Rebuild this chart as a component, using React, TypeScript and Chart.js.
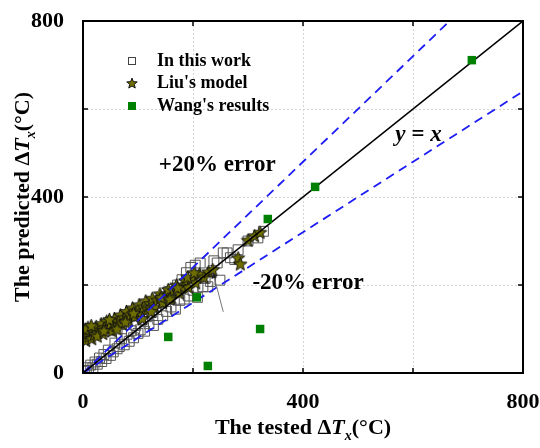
import React, { useEffect, useRef } from 'react';
import { Chart, registerables } from 'chart.js';

Chart.register(...registerables);

// ---- axis settings ----
const AXIS_MIN = 0;
const AXIS_MAX = 800;
const TICK_STEP = 200;
const LABELED_TICKS = [0, 400, 800];

// ---- "In this work" (open squares) ----
const workX = [3, 6, 10, 14, 18, 22, 26, 30, 34, 38, 42, 46, 50, 55, 58, 62, 66, 70, 75, 80, 84, 88, 92, 96, 100, 104, 108, 112, 116, 120, 125, 128, 132, 136, 140, 145, 148, 152, 156, 160, 164, 168, 172, 176, 180, 184, 188, 192, 196, 200, 204, 208, 213, 218, 222, 227, 232, 238, 244, 249, 255, 262, 268, 276, 282, 300, 318, 328];
const workY = [4, 12, 6, 18, 12, 25, 20, 34, 26, 42, 33, 52, 40, 48, 68, 55, 60, 78, 64, 88, 72, 96, 80, 108, 90, 98, 122, 95, 128, 112, 138, 108, 150, 122, 160, 130, 172, 140, 185, 150, 190, 145, 200, 165, 212, 168, 228, 175, 240, 188, 245, 172, 250, 196, 215, 196, 208, 255, 250, 211, 273, 273, 262, 258, 280, 300, 307, 322];

// ---- "Liu's model" (stars) ----
const liuX = [1, 3, 5, 7, 9, 11, 13, 16, 18, 21, 24, 27, 30, 33, 36, 40, 43, 46, 50, 53, 57, 60, 64, 68, 71, 75, 79, 83, 86, 90, 94, 98, 102, 106, 110, 114, 118, 122, 126, 130, 135, 140, 145, 150, 155, 160, 165, 170, 175, 180, 186, 192, 198, 205, 212, 220, 228, 236, 282, 286, 300, 312, 322, 4, 15, 26, 38, 48, 62, 77, 92, 108, 124, 142, 158, 172, 190, 202];
const liuY = [82, 96, 74, 90, 104, 84, 95, 78, 100, 88, 106, 92, 98, 112, 90, 104, 118, 100, 112, 96, 124, 108, 118, 132, 112, 126, 140, 120, 132, 148, 128, 142, 155, 136, 150, 164, 145, 158, 170, 150, 166, 180, 160, 176, 190, 172, 188, 200, 182, 196, 210, 195, 215, 205, 225, 218, 230, 235, 262, 248, 302, 312, 320, 100, 108, 84, 96, 122, 100, 116, 136, 124, 140, 172, 168, 194, 218, 228];

// ---- "Wang's results" (green squares) ----
const wangX = [155, 207, 227, 322, 336, 422, 707];
const wangY = [82, 172, 16, 100, 350, 423, 711];

// ---- reference lines: y = k x ----
const REF_RATIOS = [1, 1.2, 0.8];

// ---- labels ----
const LEGEND_LABELS = ['In this work', "Liu's model", "Wang's results"];
const PLUS_TEXT = '+20% error';
const MINUS_TEXT = '-20% error';
const LINE_TEXT = 'y = x';
const X_TITLE = ['The tested Δ', 'T', 'x', '(°C)'];
const Y_TITLE = ['The predicted Δ', 'T', 'x', '(°C)'];

const FAM = '"Liberation Serif", "Times New Roman", serif';
const OLIVE = '#6e6e00';
const GREEN = '#008000';
const BLUE = '#1c1cf5';

function pts(xs: number[], ys: number[]) {
  return xs.map((x, i) => ({ x, y: ys[i] }));
}

function refLine(k: number) {
  const xEnd = Math.min(AXIS_MAX, AXIS_MAX / k);
  return [
    { x: AXIS_MIN, y: AXIS_MIN },
    { x: xEnd, y: xEnd * k },
  ];
}

function makeStar(R: number, r: number) {
  const size = Math.ceil(R * 2 + 3);
  const c = document.createElement('canvas');
  c.width = size;
  c.height = size;
  const g = c.getContext('2d')!;
  const cx = size / 2;
  const cy = size / 2 + 0.6;
  g.beginPath();
  for (let i = 0; i < 10; i++) {
    const a = -Math.PI / 2 + (i * Math.PI) / 5;
    const rad = i % 2 === 0 ? R : r;
    const px = cx + rad * Math.cos(a);
    const py = cy + rad * Math.sin(a);
    if (i === 0) g.moveTo(px, py);
    else g.lineTo(px, py);
  }
  g.closePath();
  g.fillStyle = OLIVE;
  g.fill();
  g.lineWidth = 1;
  g.strokeStyle = '#111';
  g.stroke();
  return c;
}

function drawRich(
  ctx: CanvasRenderingContext2D,
  parts: string[],
  size: number,
  cx: number,
  baseline: number
) {
  const fonts = [
    `bold ${size}px ${FAM}`,
    `italic bold ${size}px ${FAM}`,
    `italic bold ${Math.round(size * 0.65)}px ${FAM}`,
    `bold ${size}px ${FAM}`,
  ];
  const offs = [0, 0, size * 0.25, 0];
  let total = 0;
  const widths = parts.map((p, i) => {
    ctx.font = fonts[i];
    const w = ctx.measureText(p).width;
    total += w;
    return w;
  });
  let x = cx - total / 2;
  ctx.textAlign = 'left';
  ctx.textBaseline = 'alphabetic';
  ctx.fillStyle = '#000';
  parts.forEach((p, i) => {
    ctx.font = fonts[i];
    ctx.fillText(p, x, baseline + offs[i]);
    x += widths[i];
  });
}

export default function App() {
  const ref = useRef<HTMLCanvasElement>(null);

  useEffect(() => {
    const canvas = ref.current!;
    const star = makeStar(7, 3);
    const legendStar = makeStar(5.5, 2.4);

    const decor = {
      id: 'decor',
      beforeDatasetsDraw(chart: any) {
        const { ctx, chartArea: a, scales } = chart;
        const xs = scales.x;
        const ys = scales.y;
        ctx.save();
        ctx.strokeStyle = '#d4d4d4';
        ctx.lineWidth = 1;
        ctx.setLineDash([2, 2]);
        xs.ticks.forEach((t: any) => {
          if (t.value <= AXIS_MIN || t.value >= AXIS_MAX) return;
          const px = Math.round(xs.getPixelForValue(t.value)) + 0.5;
          ctx.beginPath();
          ctx.moveTo(px, a.top);
          ctx.lineTo(px, a.bottom);
          ctx.stroke();
        });
        ys.ticks.forEach((t: any) => {
          if (t.value <= AXIS_MIN || t.value >= AXIS_MAX) return;
          const py = Math.round(ys.getPixelForValue(t.value)) + 0.5;
          ctx.beginPath();
          ctx.moveTo(a.left, py);
          ctx.lineTo(a.right, py);
          ctx.stroke();
        });
        ctx.restore();
      },
      afterDatasetsDraw(chart: any) {
        const { ctx, chartArea: a, scales } = chart;
        const xs = scales.x;
        const ys = scales.y;
        ctx.save();
        // box
        ctx.strokeStyle = '#000';
        ctx.lineWidth = 2;
        ctx.setLineDash([]);
        ctx.strokeRect(a.left, a.top, a.right - a.left, a.bottom - a.top);
        // inward ticks
        const TL = 5;
        ctx.lineWidth = 1.5;
        xs.ticks.forEach((t: any) => {
          const px = xs.getPixelForValue(t.value);
          ctx.beginPath();
          ctx.moveTo(px, a.bottom);
          ctx.lineTo(px, a.bottom - TL);
          ctx.moveTo(px, a.top);
          ctx.lineTo(px, a.top + TL);
          ctx.stroke();
        });
        ys.ticks.forEach((t: any) => {
          const py = ys.getPixelForValue(t.value);
          ctx.beginPath();
          ctx.moveTo(a.left, py);
          ctx.lineTo(a.left + TL, py);
          ctx.moveTo(a.right, py);
          ctx.lineTo(a.right - TL, py);
          ctx.stroke();
        });

        // annotations
        ctx.fillStyle = '#000';
        ctx.textBaseline = 'middle';
        ctx.font = `bold 23px ${FAM}`;
        ctx.textAlign = 'center';
        ctx.fillText(PLUS_TEXT, xs.getPixelForValue(244), ys.getPixelForValue(473));
        ctx.textAlign = 'left';
        ctx.fillText(MINUS_TEXT, xs.getPixelForValue(308), ys.getPixelForValue(205));
        ctx.font = `italic bold 23px ${FAM}`;
        ctx.textAlign = 'center';
        ctx.fillText(LINE_TEXT, xs.getPixelForValue(610), ys.getPixelForValue(541));

        // arrow
        const tx = xs.getPixelForValue(236);
        const ty = ys.getPixelForValue(230);
        const sx = xs.getPixelForValue(255);
        const sy = ys.getPixelForValue(139);
        ctx.strokeStyle = '#777';
        ctx.lineWidth = 1;
        ctx.beginPath();
        ctx.moveTo(sx, sy);
        ctx.lineTo(tx, ty);
        ctx.stroke();
        const ang = Math.atan2(ty - sy, tx - sx);
        const hl = 7;
        ctx.fillStyle = '#222';
        ctx.beginPath();
        ctx.moveTo(tx, ty);
        ctx.lineTo(tx - hl * Math.cos(ang - 0.4), ty - hl * Math.sin(ang - 0.4));
        ctx.lineTo(tx - hl * Math.cos(ang + 0.4), ty - hl * Math.sin(ang + 0.4));
        ctx.closePath();
        ctx.fill();

        // legend
        const mx = 132;
        const lx = 157;
        const rows = [61, 83, 106];
        ctx.font = `bold 18px ${FAM}`;
        ctx.textAlign = 'left';
        ctx.textBaseline = 'middle';
        ctx.fillStyle = '#000';
        LEGEND_LABELS.forEach((lab, i) => ctx.fillText(lab, lx, rows[i]));
        ctx.strokeStyle = '#444';
        ctx.lineWidth = 1;
        ctx.strokeRect(mx - 3.5, rows[0] - 3.5, 7, 7);
        ctx.drawImage(legendStar, mx - legendStar.width / 2, rows[1] - legendStar.height / 2);
        ctx.fillStyle = GREEN;
        ctx.fillRect(mx - 4, rows[2] - 4, 8, 8);
        ctx.restore();
      },
      afterDraw(chart: any) {
        const { ctx, chartArea: a } = chart;
        ctx.save();
        drawRich(ctx, X_TITLE, 22, (a.left + a.right) / 2, 434);
        ctx.translate(29, (a.top + a.bottom) / 2);
        ctx.rotate(-Math.PI / 2);
        drawRich(ctx, Y_TITLE, 22, 0, 0);
        ctx.restore();
      },
    };

    const tickFont = { family: FAM, size: 22, weight: 'bold' as const };
    const tickCb = (v: any) => (LABELED_TICKS.includes(Number(v)) ? String(v) : '');

    const chart = new Chart(canvas, {
      type: 'scatter',
      data: {
        datasets: [
          {
            label: "Wang's results",
            data: pts(wangX, wangY),
            pointStyle: 'rect',
            pointRadius: 6,
            backgroundColor: GREEN,
            borderColor: GREEN,
            borderWidth: 0,
            order: 0,
          },
          {
            label: 'y = x',
            type: 'line',
            data: refLine(REF_RATIOS[0]),
            borderColor: '#000',
            borderWidth: 1.6,
            pointRadius: 0,
            fill: false,
            order: 1,
          },
          {
            label: '+20%',
            type: 'line',
            data: refLine(REF_RATIOS[1]),
            borderColor: BLUE,
            borderWidth: 1.8,
            borderDash: [9, 6],
            pointRadius: 0,
            fill: false,
            order: 1,
          },
          {
            label: '-20%',
            type: 'line',
            data: refLine(REF_RATIOS[2]),
            borderColor: BLUE,
            borderWidth: 1.8,
            borderDash: [9, 6],
            pointRadius: 0,
            fill: false,
            order: 1,
          },
          {
            label: "Liu's model",
            data: pts(liuX, liuY),
            pointStyle: star as any,
            pointRadius: 7,
            order: 2,
          },
          {
            label: 'In this work',
            data: pts(workX, workY),
            pointStyle: 'rect',
            pointRadius: 7,
            backgroundColor: 'rgba(255,255,255,0)',
            borderColor: '#555',
            borderWidth: 1,
            order: 3,
          },
        ],
      },
      options: {
        animation: false,
        responsive: false,
        devicePixelRatio: 1,
        layout: { padding: { top: 21, right: 17, left: 0, bottom: 0 } },
        plugins: {
          legend: { display: false },
          tooltip: { enabled: false },
        },
        scales: {
          x: {
            type: 'linear',
            min: AXIS_MIN,
            max: AXIS_MAX,
            grid: { display: false },
            border: { display: false },
            ticks: { stepSize: TICK_STEP, font: tickFont, color: '#000', padding: 8, callback: tickCb, maxRotation: 0, autoSkip: false },
            afterFit: (s: any) => {
              s.height = 75;
              s.paddingLeft = 0;
              s.paddingRight = 0;
            },
          },
          y: {
            type: 'linear',
            min: AXIS_MIN,
            max: AXIS_MAX,
            grid: { display: false },
            border: { display: false },
            ticks: { stepSize: TICK_STEP, font: tickFont, color: '#000', padding: 11, callback: tickCb, autoSkip: false },
            afterFit: (s: any) => {
              s.width = 83;
              s.paddingTop = 0;
              s.paddingBottom = 0;
            },
          },
        },
      },
      plugins: [decor],
    } as any);

    return () => chart.destroy();
  }, []);

  return (
    <div style={{ position: 'fixed', left: 0, top: 0, width: 540, height: 448, background: '#fff' }}>
      <canvas ref={ref} width={540} height={448} style={{ width: 540, height: 448, display: 'block' }} />
    </div>
  );
}
